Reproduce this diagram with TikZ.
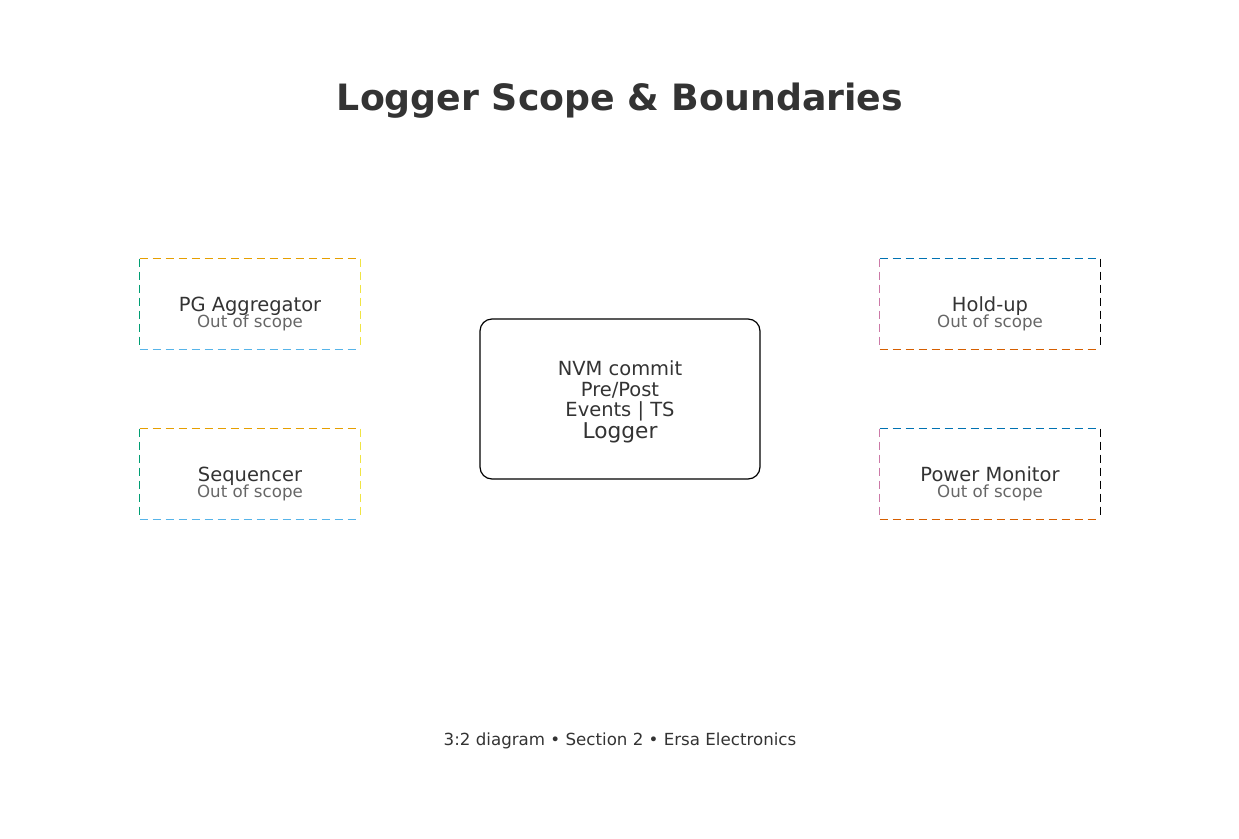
\documentclass[tikz,border=0pt]{standalone}
\usepackage{fontspec}
\setmainfont{DejaVu Sans}
\usepackage{xcolor}
\usetikzlibrary{positioning}

\definecolor{ink}{HTML}{333333}
\definecolor{subgray}{HTML}{666666}
\definecolor{okorange}{HTML}{E69F00}
\definecolor{okskyblue}{HTML}{56B4E9}
\definecolor{okgreen}{HTML}{009E73}
\definecolor{okyellow}{HTML}{F0E442}
\definecolor{okblue}{HTML}{0072B2}
\definecolor{okvermillion}{HTML}{D55E00}
\definecolor{okpurple}{HTML}{CC79A7}

\begin{document}
\begin{tikzpicture}[x=0.75pt, y=-0.75pt, font=\fontsize{14.6}{15.3}\selectfont, text=ink]
    \tikzstyle{scopebox} = [rectangle, minimum width=165pt, minimum height=67.5pt, inner sep=0pt]
    \tikzstyle{side} = [line width=0.9pt, dash pattern=on 6pt off 3.75pt]
    \tikzstyle{boxname} = [anchor=base, inner sep=0pt]
    \tikzstyle{boxsub} = [anchor=base, inner sep=0pt, text=subgray, font=\fontsize{12.5}{14}\selectfont]
    \tikzstyle{core} = [rectangle, rounded corners=9pt, draw=black, line width=0.9pt, minimum width=210pt, minimum height=120pt]

    \useasboundingbox (0,0) rectangle (1239,839);

    \node (title) [anchor=base, font=\fontsize{27.2}{30}\selectfont\bfseries] at (620,110) {Logger Scope \& Boundaries};

    % central logger
    \node (logger) [core] at (620,399) {};
    \node (loggertext) [align=center, inner sep=0pt] at (620,402) {NVM commit\\Pre/Post\\Events | TS\\{\fontsize{16.3}{15.3}\selectfont Logger}};

    % out-of-scope blocks
    \node (pg) [scopebox] at (250,304) {};
    \node (seq) [scopebox] at (250,474) {};
    \node (hold) [scopebox] at (990,304) {};
    \node (pmon) [scopebox] at (990,474) {};

    \node (pgname) [boxname] at (250,311) {PG Aggregator};
    \node (pgsub) [boxsub] at (250,327) {Out of scope};
    \node (seqname) [boxname] at (250,481) {Sequencer};
    \node (seqsub) [boxsub] at (250,497) {Out of scope};
    \node (holdname) [boxname] at (990,311) {Hold-up};
    \node (holdsub) [boxsub] at (990,327) {Out of scope};
    \node (pmonname) [boxname] at (990,481) {Power Monitor};
    \node (pmonsub) [boxsub] at (990,497) {Out of scope};

    % left blocks
    \draw [side, color=okorange] (pg.north west) -- (pg.north east);
    \draw [side, color=okyellow] (pg.north east) -- (pg.south east);
    \draw [side, color=okskyblue] (pg.south west) -- (pg.south east);
    \draw [side, color=okgreen] (pg.north west) -- (pg.south west);
    \draw [side, color=okorange] (seq.north west) -- (seq.north east);
    \draw [side, color=okyellow] (seq.north east) -- (seq.south east);
    \draw [side, color=okskyblue] (seq.south west) -- (seq.south east);
    \draw [side, color=okgreen] (seq.north west) -- (seq.south west);

    % right blocks
    \draw [side, color=okblue] (hold.north west) -- (hold.north east);
    \draw [side, color=black] (hold.north east) -- (hold.south east);
    \draw [side, color=okvermillion] (hold.south west) -- (hold.south east);
    \draw [side, color=okpurple] (hold.north west) -- (hold.south west);
    \draw [side, color=okblue] (pmon.north west) -- (pmon.north east);
    \draw [side, color=black] (pmon.north east) -- (pmon.south east);
    \draw [side, color=okvermillion] (pmon.south west) -- (pmon.south east);
    \draw [side, color=okpurple] (pmon.north west) -- (pmon.south west);

    \node (footer) [anchor=base, font=\fontsize{12.5}{14}\selectfont] at (620,745) {3:2 diagram • Section 2 • Ersa Electronics};
\end{tikzpicture}
\end{document}
